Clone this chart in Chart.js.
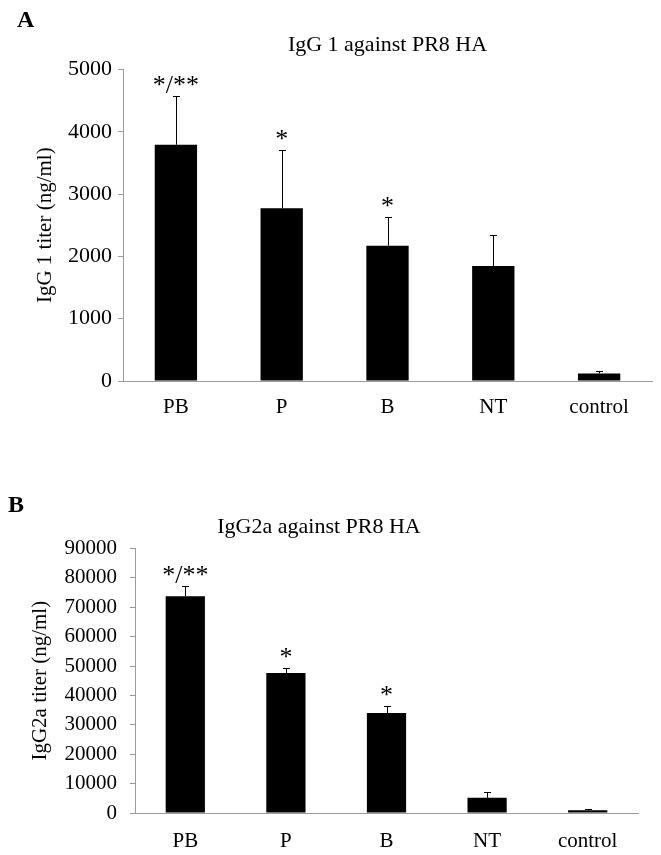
<!DOCTYPE html>
<html>
<head>
<meta charset="UTF-8">
<title>IgG1 / IgG2a against PR8 HA</title>
<script src="https://cdn.jsdelivr.net/npm/chart.js"></script>
<style>
  body { margin: 0; background: #fff; }
  .panel { position: absolute; left: 0; width: 661px; height: 425px; }
</style>
</head>
<body>
<div class="panel" style="top:0"><canvas id="chartA"></canvas></div>
<div class="panel" style="top:430px"><canvas id="chartB"></canvas></div>
<script>
// groups
const groups = ['PB', 'P', 'B', 'NT', 'control'];

// A: IgG 1 (ng/ml)
const igg1Mean = [3790, 2770, 2170, 1845, 120];
const igg1Err = [790, 930, 465, 500, 35];
const igg1Marks = ['*/**', '*', '*', '', ''];

// B: IgG2a (ng/ml)
const igg2aMean = [73700, 47600, 34000, 5150, 900];
const igg2aErr = [3400, 1550, 2500, 1850, 450];
const igg2aMarks = ['*/**', '*', '*', '', ''];

const serif = '"Liberation Serif", "Times New Roman", serif';
const axisGrey = '#9a9a9a';

// error bars (upper half only) + asterisks
const errorBars = {
  id: 'errorBars',
  afterDatasetsDraw(chart, args, opts) {
    const { ctx } = chart;
    const yScale = chart.scales.y;
    const meta = chart.getDatasetMeta(0);
    ctx.save();
    ctx.strokeStyle = '#000';
    ctx.lineWidth = 1;
    ctx.fillStyle = '#000';
    ctx.font = '26px ' + serif;
    ctx.textAlign = 'center';
    ctx.textBaseline = 'middle';
    meta.data.forEach((bar, i) => {
      const x = Math.round(bar.x) + 0.5;
      const yTop = Math.round(yScale.getPixelForValue(opts.means[i] + opts.errors[i])) + 0.5;
      const yBar = yScale.getPixelForValue(opts.means[i]);
      ctx.beginPath();
      ctx.moveTo(x, yBar);
      ctx.lineTo(x, yTop);
      ctx.moveTo(x - 3.5, yTop);
      ctx.lineTo(x + 3.5, yTop);
      ctx.stroke();
      if (opts.marks[i]) {
        ctx.fillText(opts.marks[i], bar.x, yTop - opts.markGap);
      }
    });
    ctx.restore();
  }
};

// panel letter (A / B)
const panelLetter = {
  id: 'panelLetter',
  afterDraw(chart, args, opts) {
    const { ctx } = chart;
    ctx.save();
    ctx.font = 'bold 24px ' + serif;
    ctx.fillStyle = '#000';
    ctx.textBaseline = 'middle';
    ctx.fillText(opts.text, opts.x, opts.y);
    ctx.restore();
  }
};

function makeChart(id, s) {
  return new Chart(document.getElementById(id), {
    type: 'bar',
    data: {
      labels: groups,
      datasets: [{
        data: s.means,
        backgroundColor: '#000',
        borderWidth: 0,
        barPercentage: s.barPct,
        categoryPercentage: 1
      }]
    },
    options: {
      responsive: true,
      maintainAspectRatio: false,
      animation: false,
      layout: { padding: { left: 0, right: s.right, top: 0, bottom: 0 } },
      plugins: {
        legend: { display: false },
        tooltip: { enabled: false },
        title: {
          display: true,
          text: s.title,
          color: '#000',
          fullSize: s.titleFull,
          font: { family: serif, size: 22, weight: 'normal' },
          padding: { top: s.titleTop, bottom: s.titleBottom }
        },
        errorBars: { means: s.means, errors: s.errors, marks: s.marks, markGap: 10 },
        panelLetter: s.letter
      },
      scales: {
        x: {
          grid: { display: false },
          border: { display: true, color: axisGrey, width: 1 },
          ticks: { color: '#000', padding: s.xPad, font: { family: serif, size: 21 } },
          afterFit(scale) { scale.height = s.xHeight; }
        },
        y: {
          min: 0,
          max: s.max,
          ticks: {
            stepSize: s.step,
            color: '#000',
            padding: s.yPad,
            font: { family: serif, size: s.tickSize },
            callback: v => String(v)
          },
          grid: { drawOnChartArea: false, drawTicks: true, tickLength: 5, color: axisGrey },
          border: { display: true, color: axisGrey, width: 1 },
          title: {
            display: true,
            text: s.yTitle,
            color: '#000',
            font: { family: serif, size: 21 },
            padding: { top: s.yTitlePad, bottom: 0 }
          },
          afterFit(scale) { scale.width = s.yWidth; }
        }
      }
    },
    plugins: [errorBars, panelLetter]
  });
}

makeChart('chartA', {
  means: igg1Mean, errors: igg1Err, marks: igg1Marks,
  title: 'IgG 1 against PR8 HA', titleFull: false, titleTop: 32, titleBottom: 11,
  yTitle: 'IgG 1 titer (ng/ml)', yTitlePad: 33, yWidth: 123, yPad: 6, tickSize: 22,
  max: 5000, step: 1000, right: 9, xHeight: 44, xPad: 6, barPct: 0.4,
  letter: { text: 'A', x: 17, y: 21 }
});

makeChart('chartB', {
  means: igg2aMean, errors: igg2aErr, marks: igg2aMarks,
  title: 'IgG2a against PR8 HA', titleFull: true, titleTop: 84, titleBottom: 8,
  yTitle: 'IgG2a titer (ng/ml)', yTitlePad: 28, yWidth: 135, yPad: 13, tickSize: 21,
  max: 90000, step: 10000, right: 23, xHeight: 42, xPad: 8, barPct: 0.39,
  letter: { text: 'B', x: 8, y: 76 }
});
</script>
</body>
</html>
